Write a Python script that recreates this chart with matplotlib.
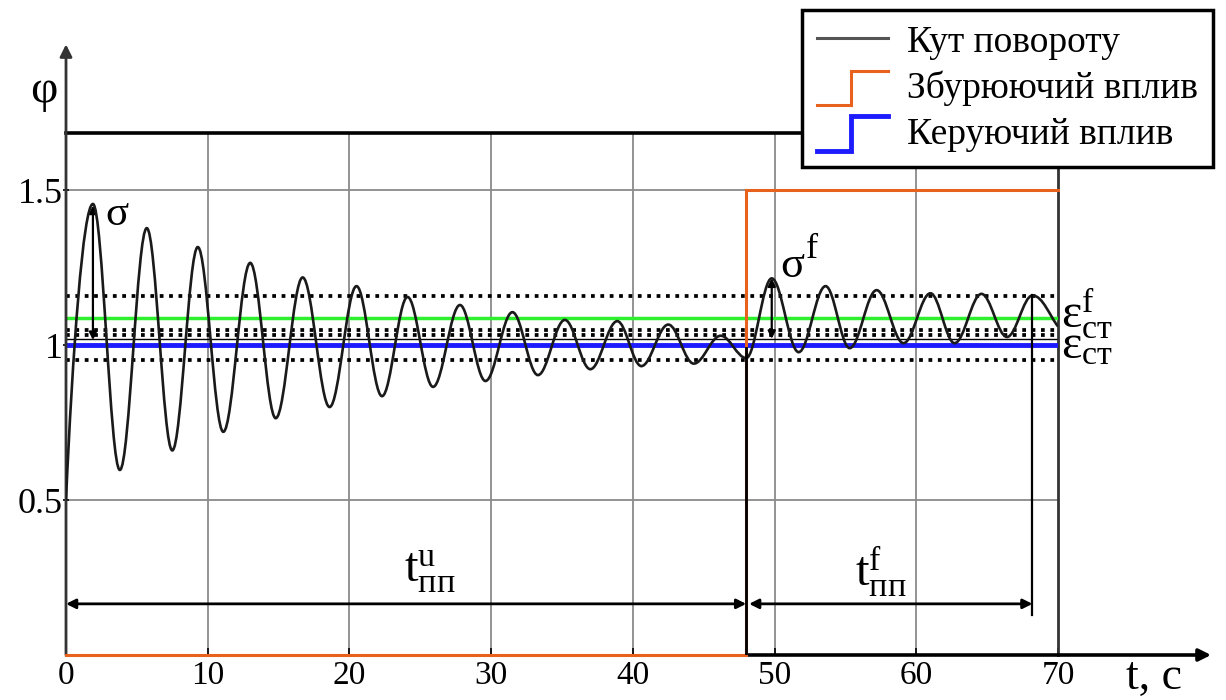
import numpy as np
import matplotlib
matplotlib.use("Agg")
import matplotlib.pyplot as plt
from matplotlib.path import Path
from matplotlib.patches import PathPatch
from matplotlib.lines import Line2D
from matplotlib.legend_handler import HandlerBase

plt.rcParams['font.family'] = ['Liberation Serif', 'DejaVu Serif']
plt.rcParams['mathtext.fontset'] = 'custom'
plt.rcParams['mathtext.rm'] = 'Liberation Serif'
plt.rcParams['mathtext.it'] = 'Liberation Serif'
plt.rcParams['mathtext.bf'] = 'Liberation Serif'

# --- DATA
# turning points of the rotation angle phi(t)
start_pt = (0.0, 0.5)
ext_t = [1.9, 3.8, 5.7, 7.5, 9.3, 11.1, 13.0, 14.8, 16.7, 18.6, 20.5, 22.3,
         24.1, 25.9, 27.8, 29.6, 31.5, 33.3, 35.2, 37.0, 38.9, 40.6, 42.5,
         44.3, 46.2, 48.0, 49.8, 51.7, 53.6, 55.3, 57.2, 59.1, 61.0, 62.7,
         64.6, 66.4, 68.2]
ext_phi = [1.455, 0.597, 1.377, 0.66, 1.316, 0.72, 1.265, 0.764, 1.218, 0.80,
           1.19, 0.835, 1.155, 0.865, 1.129, 0.884, 1.106, 0.903, 1.081, 0.922,
           1.077, 0.932, 1.066, 0.94, 1.03, 0.958, 1.215, 0.977, 1.19, 0.99,
           1.177, 1.006, 1.167, 1.006, 1.165, 1.026, 1.16]
end_pt = (70.0, 1.06)

# disturbance (step) and control input
dist_t = [0, 48, 48, 70]
dist_phi = [0, 0, 1.5, 1.5]
ctrl_level = 1.0
eps_f_level = 1.087        # green
band_dotted = [1.159, 1.048, 1.032, 0.952]
band_solid = 1.018

t_switch = 48.0
t_settle_f = 68.2
arrow_level = 0.165
sigma_t, sigma_lo, sigma_hi = 1.9, 1.016, 1.45
sigmaf_t, sigmaf_lo, sigmaf_hi = 49.8, 1.02, 1.215

xticks = [0, 10, 20, 30, 40, 50, 60, 70]
yticks = [0.5, 1, 1.5]
ytick_labels = ['0.5', '1', '1.5']


# --- LEGEND HANDLER FOR STEP SHAPES
class HandlerStep(HandlerBase):
    def create_artists(self, legend, orig_handle, xdescent, ydescent,
                       width, height, fontsize, trans):
        x0 = -xdescent
        y0 = -ydescent
        xs = [x0, x0 + 0.48 * width, x0 + 0.48 * width, x0 + width]
        ys = [y0 - 0.25 * height, y0 - 0.25 * height,
              y0 + 1.05 * height, y0 + 1.05 * height]
        ln = Line2D(xs, ys, color=orig_handle.get_color(),
                    lw=orig_handle.get_linewidth(), transform=trans,
                    solid_joinstyle='miter')
        return [ln]


# --- FIGURE
fig = plt.figure(figsize=(12.26, 7.0), dpi=100)
ax = fig.add_axes([66 / 1226, 45 / 700, 992 / 1226, 522 / 700])
ax.set_xlim(0, 70)
ax.set_ylim(0, 1.684)

# grid
for xv in xticks[1:-1]:
    ax.axvline(xv, color='#8a8a8a', lw=1.3, zorder=1)
for yv in yticks:
    ax.axhline(yv, color='#8a8a8a', lw=1.3, zorder=1)

# tolerance band lines
for yv in band_dotted:
    ax.axhline(yv, color='black', lw=2.7, linestyle=(0, (1, 1.5)), zorder=2)
ax.axhline(band_solid, color='black', lw=1.0, zorder=2)
ax.axhline(eps_f_level, color='#2ef02e', lw=2.5, zorder=3)
ax.axhline(ctrl_level, color='#1c1cff', lw=3.5, zorder=3)

# disturbance step
ax.plot(dist_t, dist_phi, color='#e8621e', lw=2.2, zorder=4, clip_on=False,
        solid_joinstyle='miter')

# rotation angle curve (smooth through the turning points)
k = 0.36
verts = [start_pt]
codes = [Path.MOVETO]
t0, y0 = start_pt
t1, y1 = ext_t[0], ext_phi[0]
verts += [(0.45, 0.97), (t1 - k * (t1 - t0), y1), (t1, y1)]
codes += [Path.CURVE4] * 3
for i in range(len(ext_t) - 1):
    t0, y0 = ext_t[i], ext_phi[i]
    t1, y1 = ext_t[i + 1], ext_phi[i + 1]
    dt = t1 - t0
    verts += [(t0 + k * dt, y0), (t1 - k * dt, y1), (t1, y1)]
    codes += [Path.CURVE4] * 3
t0, y0 = ext_t[-1], ext_phi[-1]
t1, y1 = end_pt
verts += [(t0 + 0.4 * (t1 - t0), y0), (t1 - 0.3 * (t1 - t0), y1 + 0.03), (t1, y1)]
codes += [Path.CURVE4] * 3
ax.add_patch(PathPatch(Path(verts, codes), facecolor='none',
                       edgecolor='#1a1a1a', lw=1.9, zorder=5))

# settling time markers
ax.plot([t_switch, t_switch], [0, 0.99], color='black', lw=2.0, zorder=6)
ax.plot([t_settle_f, t_settle_f], [0.13, ext_phi[-1]], color='black',
        lw=1.6, zorder=6)
arr = dict(arrowstyle='<|-|>', color='black', lw=2.0,
           mutation_scale=14, shrinkA=0, shrinkB=0)
ax.annotate('', xy=(0, arrow_level), xytext=(t_switch, arrow_level),
            arrowprops=arr, annotation_clip=False)
ax.annotate('', xy=(t_switch + 0.2, arrow_level),
            xytext=(t_settle_f, arrow_level), arrowprops=arr)

# overshoot arrows
arr_s = dict(arrowstyle='<|-|>', color='black', lw=1.6,
             mutation_scale=11, shrinkA=0, shrinkB=0)
ax.annotate('', xy=(sigma_t, sigma_hi), xytext=(sigma_t, sigma_lo),
            arrowprops=arr_s)
ax.annotate('', xy=(sigmaf_t, sigmaf_hi), xytext=(sigmaf_t, sigmaf_lo),
            arrowprops=arr_s)

# annotation text
ax.text(2.75, 1.387, r'$\mathrm{σ}$', fontsize=31, ha='left', va='baseline')
ax.text(50.4, 1.219, r'$\mathrm{σ}$', fontsize=32, ha='left', va='baseline')
ax.text(52.15, 1.28, r'$\mathrm{f}$', fontsize=26, ha='left', va='baseline')
# epsilon labels right of the plot, one two-line text
ax.text(70.2, 1.058,
        r'$\mathrm{ε}^{\mathrm{f}}_{\mathrm{ст}}$' + '\n'
        + r'$\mathrm{ε}_{\mathrm{ст}}$',
        fontsize=35, ha='left', va='center', linespacing=0.5,
        clip_on=False)
ax.text(25.7, 0.27, r'$\mathrm{t}^{\mathrm{u}}_{\mathrm{пп}}$', fontsize=35,
        ha='center', va='center')
ax.text(57.5, 0.27, r'$\mathrm{t}^{\mathrm{f}}_{\mathrm{пп}}$', fontsize=35,
        ha='center', va='center')

# axes and spines
for s in ['left', 'bottom']:
    ax.spines[s].set_visible(False)
ax.spines['top'].set_linewidth(2.6)
ax.spines['right'].set_linewidth(2.0)
ax.spines['right'].set_color('#333333')
ax.annotate('', xy=(0, 1.97), xytext=(0, 0),
            arrowprops=dict(arrowstyle='-|>', color='#333333', lw=2.0,
                            mutation_scale=18, shrinkA=0, shrinkB=0),
            annotation_clip=False)
ax.annotate('', xy=(80.8, 0), xytext=(t_switch, 0),
            arrowprops=dict(arrowstyle='-|>', color='black', lw=2.6,
                            mutation_scale=18, shrinkA=0, shrinkB=0),
            annotation_clip=False)
ax.text(-1.6, 1.82, 'φ', fontsize=34, ha='center', va='center')
ax.text(76.8, -0.075, 't, c', fontsize=33, ha='center', va='center')

ax.set_xticks(xticks)
ax.set_yticks(yticks)
ax.set_yticklabels(ytick_labels)
ax.tick_params(axis='x', direction='in', length=5, width=1.2, labelsize=24,
               pad=4)
ax.tick_params(axis='y', direction='inout', length=5, width=1.2,
               labelsize=26, pad=0)

# legend
h1 = Line2D([], [], color='#555555', lw=2.2)
h2 = Line2D([], [], color='#e8621e', lw=2.2)
h3 = Line2D([], [], color='#1c1cff', lw=3.5)
leg = fig.legend([h1, h2, h3],
                 ['Кут повороту', 'Збурюючий вплив', 'Керуючий вплив'],
                 handler_map={h2: HandlerStep(), h3: HandlerStep()},
                 loc='upper left', bbox_to_anchor=(802 / 1226, 1 - 10 / 700),
                 bbox_transform=fig.transFigure, fontsize=27,
                 frameon=True, fancybox=False, edgecolor='black',
                 handlelength=1.9, handletextpad=0.5, labelspacing=0.3,
                 borderpad=0.4, borderaxespad=0)
leg.get_frame().set_linewidth(2.5)
leg.get_frame().set_alpha(1)

fig.savefig('out.png', dpi=100)
